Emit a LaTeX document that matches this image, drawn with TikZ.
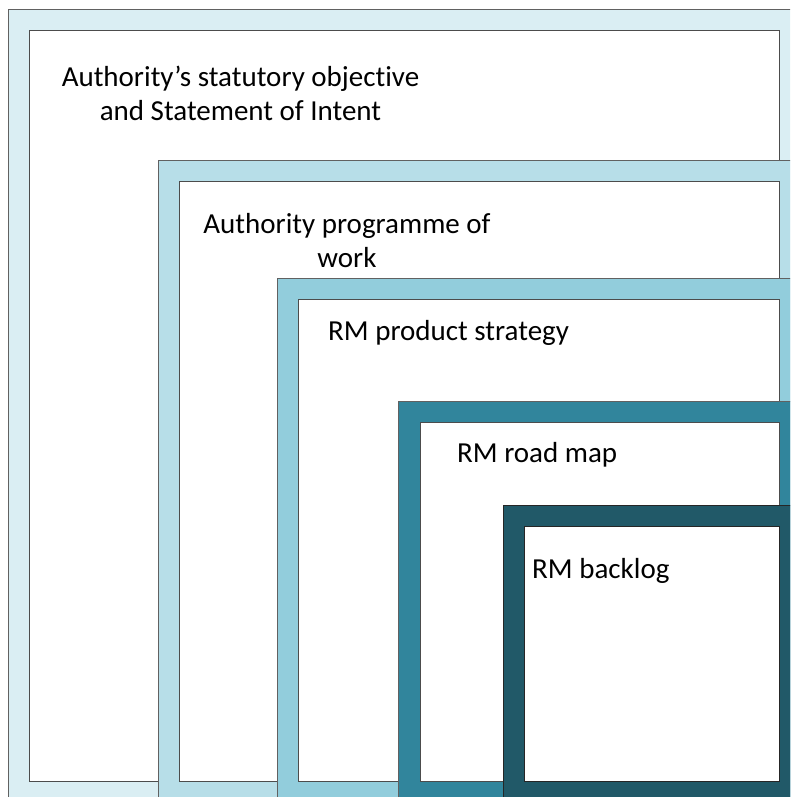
\documentclass[tikz,border=0pt]{standalone}
\usepackage{fontspec}
\setmainfont{Carlito}[Ligatures=NoCommon]
\definecolor{fA}{HTML}{DAEEF3}
\definecolor{fB}{HTML}{B7DEE8}
\definecolor{fC}{HTML}{92CDDC}
\definecolor{fD}{HTML}{31859C}
\definecolor{fE}{HTML}{215968}
\tikzset{
  frame/.style={draw=black!62, line width=1pt},
  inner/.style={draw=black!70, line width=1pt, fill=white},
  lbl/.style={inner sep=0pt, font=\fontsize{29}{33.7}\selectfont, text=black},
}
\begin{document}
\begin{tikzpicture}[x=1pt,y=-1pt]
\useasboundingbox (0,0) rectangle (790,797);
\clip (0,0) rectangle (790,797);
\fill[white] (0,0) rectangle (790,797);
% frame 1
\draw[frame, fill=fA] (8,10) rectangle (802,804);
\draw[inner] (29,31) rectangle (779,781);
\node[lbl, anchor=base, align=center] (t1) at (240.5,120.5) {Authority’s statutory objective\\and Statement of Intent};
% frame 2
\draw[frame, fill=fB] (158,160) rectangle (802,804);
\draw[inner] (179,181) rectangle (779,781);
\node[lbl, anchor=base, align=center] (t2) at (347,267) {Authority programme of\\work};
% frame 3
\draw[frame, fill=fC] (277,278) rectangle (802,804);
\draw[inner] (298,299) rectangle (779,781);
\node[lbl, anchor=base west] (t3) at (328,340) {RM product strategy};
% frame 4
\draw[frame, fill=fD] (398,401) rectangle (802,804);
\draw[inner] (420,422) rectangle (779,781);
\node[lbl, anchor=base west] (t4) at (457,462) {RM road map};
% frame 5
\draw[frame, draw=black!85, fill=fE] (503,505) rectangle (802,804);
\draw[inner, draw=black!85] (524,526) rectangle (779,781);
\node[lbl, anchor=base west] (t5) at (532,578) {RM backlog};
\end{tikzpicture}
\end{document}
